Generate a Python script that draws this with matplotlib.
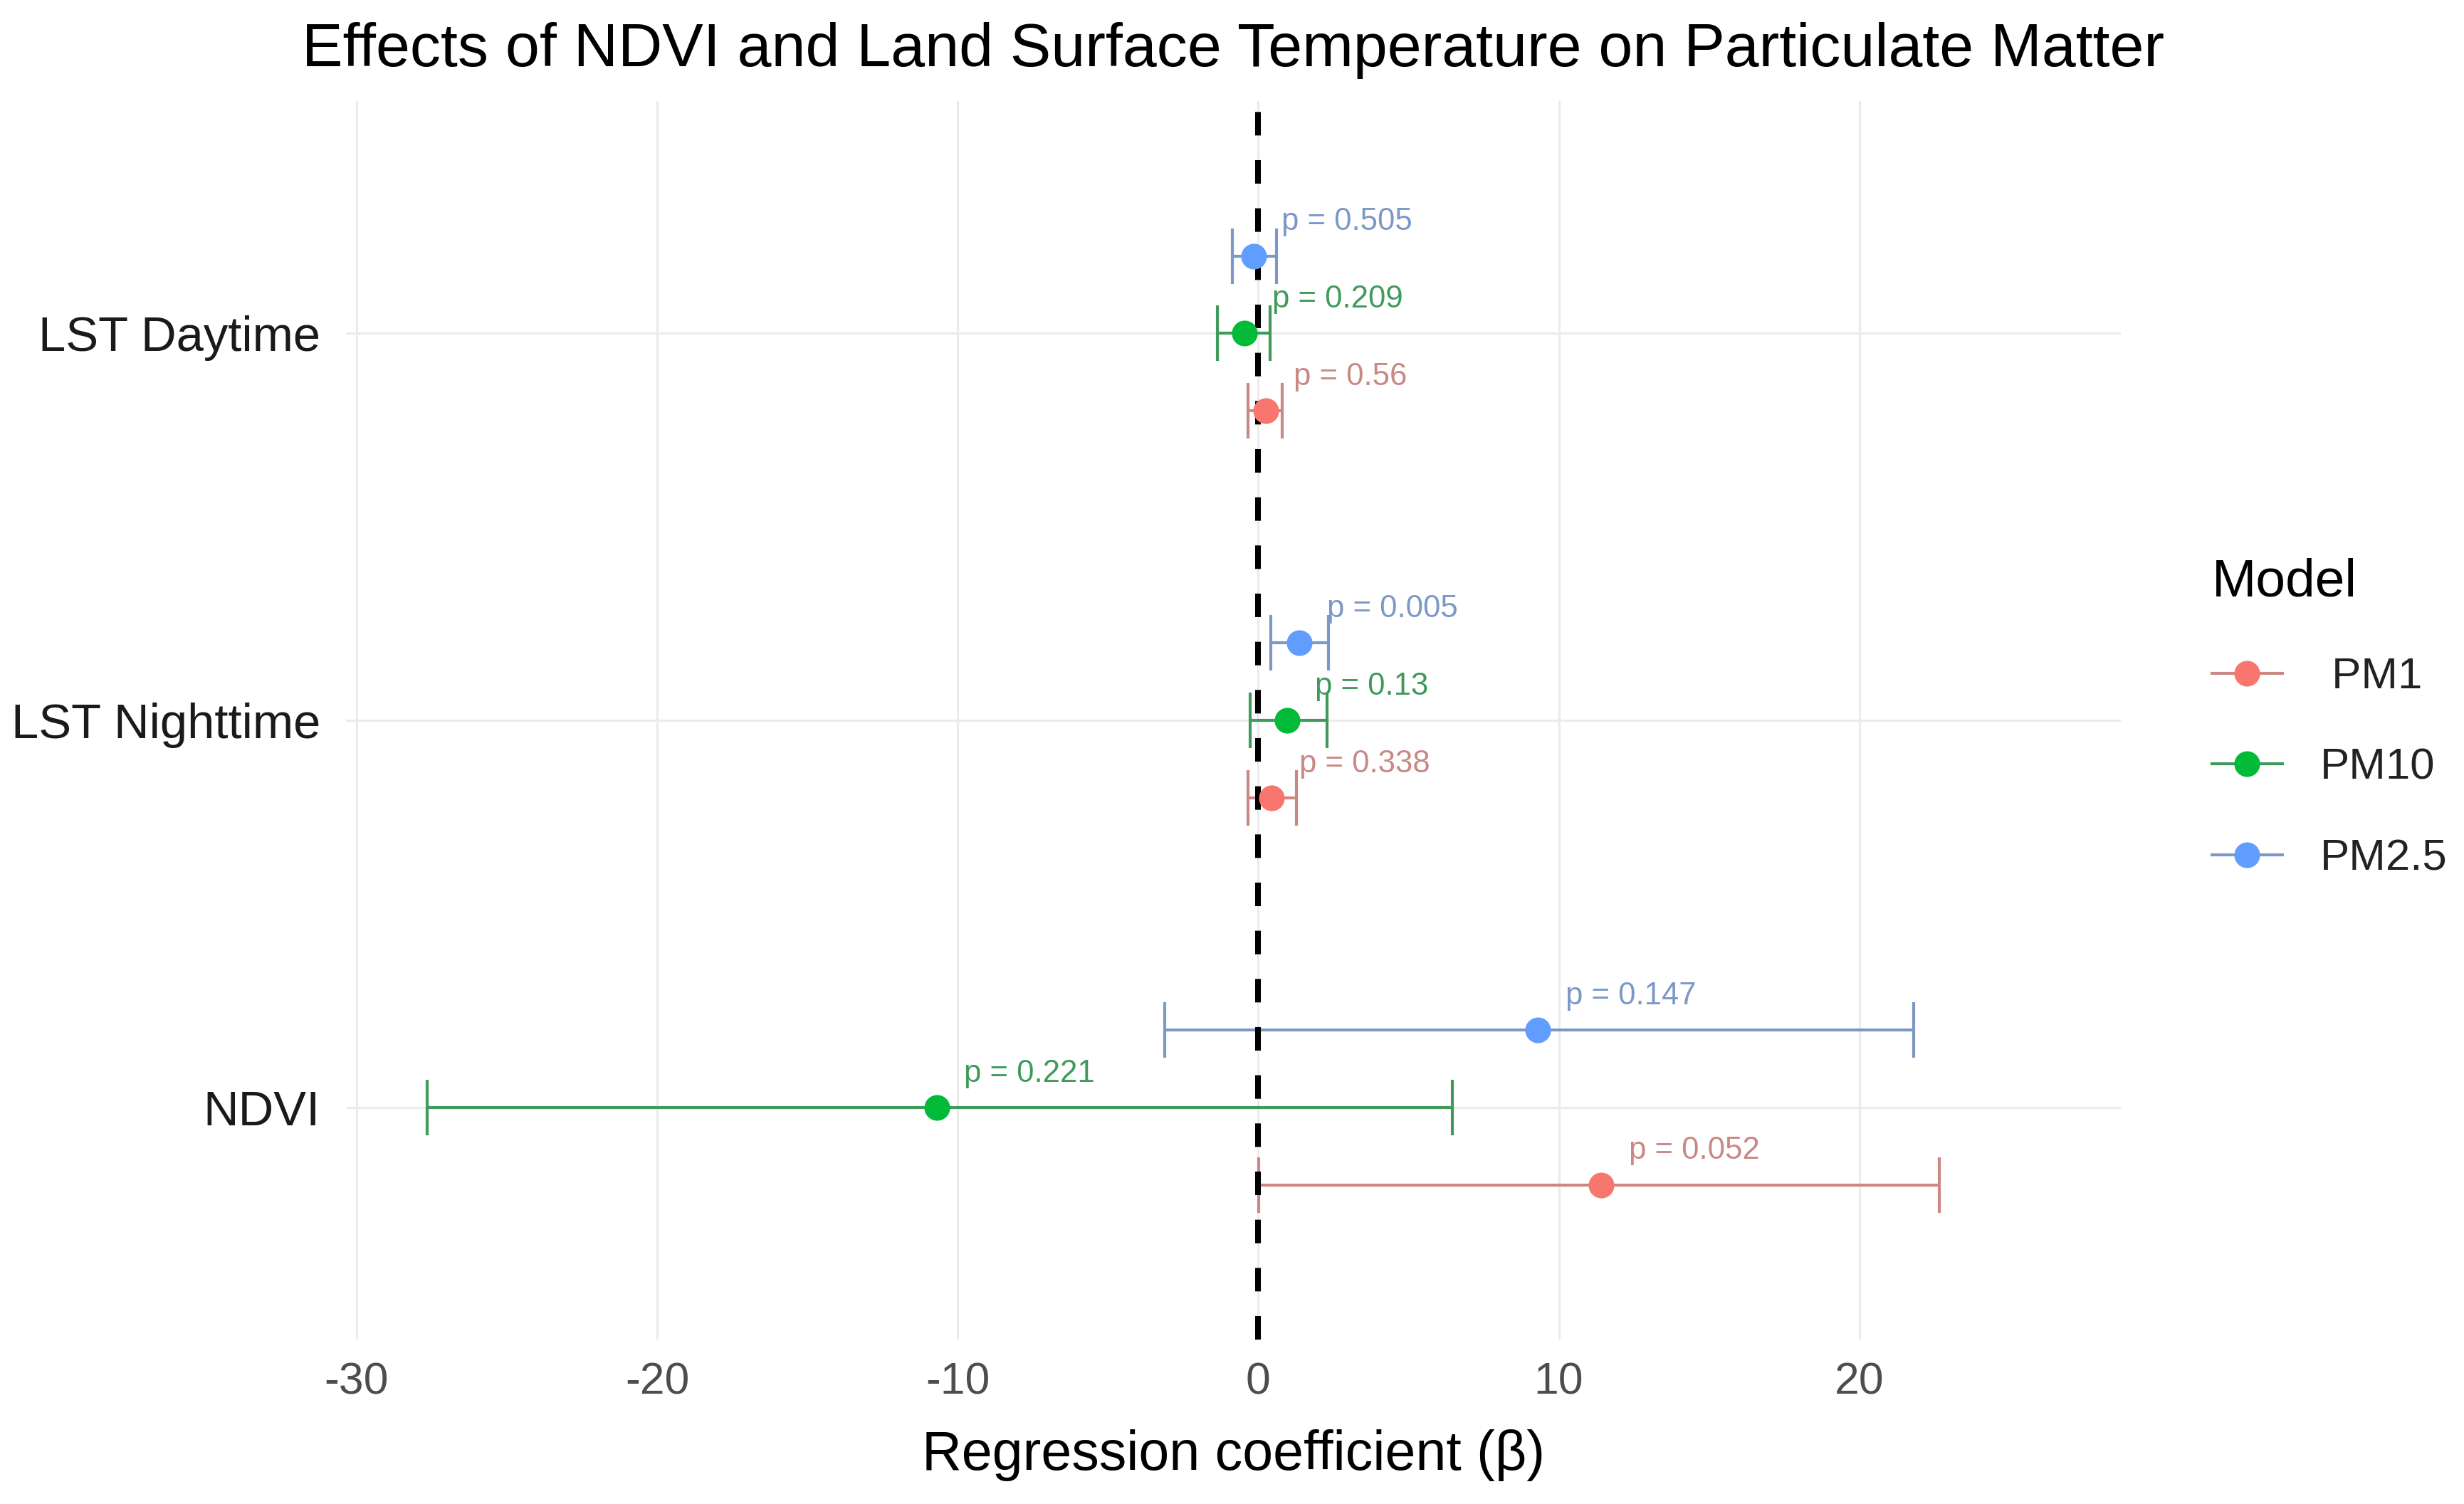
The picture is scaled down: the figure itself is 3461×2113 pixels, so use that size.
import matplotlib
matplotlib.use("Agg")
import matplotlib.pyplot as plt
from matplotlib.lines import Line2D
import numpy as np

# ---- data -------------------------------------------------------------
categories = ["NDVI", "LST Nighttime", "LST Daytime"]   # bottom -> top
models = ["PM1", "PM10", "PM2.5"]
legend_labels = [" PM1", "PM10", "PM2.5"]

est_pm1 = [11.4, 0.45, 0.26]
lo_pm1 = [0.02, -0.35, -0.35]
hi_pm1 = [22.67, 1.27, 0.80]
p_pm1 = ["0.052", "0.338", "0.56"]

est_pm10 = [-10.7, 0.97, -0.45]
lo_pm10 = [-27.66, -0.28, -1.35]
hi_pm10 = [6.45, 2.30, 0.40]
p_pm10 = ["0.221", "0.13", "0.209"]

est_pm25 = [9.3, 1.37, -0.14]
lo_pm25 = [-3.1, 0.43, -0.85]
hi_pm25 = [21.8, 2.33, 0.60]
p_pm25 = ["0.147", "0.005", "0.505"]

x_ticks = [-30, -20, -10, 0, 10, 20]

title = "Effects of NDVI and Land Surface Temperature on Particulate Matter"
x_label = "Regression coefficient (\u03b2)"
legend_title = "Model"

# ---- styling ----------------------------------------------------------
plt.rcParams["font.family"] = ["Liberation Sans", "DejaVu Sans"]

point_colors = ["#F8766D", "#00BA38", "#619CFF"]
line_colors = ["#C98883", "#3F9A5C", "#7C98C6"]
dodge = [-0.2, 0.0, 0.2]

W, H = 3462, 2113
fig = plt.figure(figsize=(W / 100, H / 100), dpi=100)
ax_left, ax_right, ax_top, ax_bottom = 486, 2979, 142, 1882
ax = fig.add_axes([ax_left / W, 1 - ax_bottom / H,
                   (ax_right - ax_left) / W, (ax_bottom - ax_top) / H])

series = [
    (est_pm1, lo_pm1, hi_pm1, p_pm1),
    (est_pm10, lo_pm10, hi_pm10, p_pm10),
    (est_pm25, lo_pm25, hi_pm25, p_pm25),
]

ypos = np.arange(len(categories))
handles = []
for i, (est, lo, hi, pv) in enumerate(series):
    est = np.asarray(est, float)
    lo = np.asarray(lo, float)
    hi = np.asarray(hi, float)
    y = ypos + dodge[i]
    ax.errorbar(est, y, xerr=[est - lo, hi - est], fmt="none",
                ecolor=line_colors[i], elinewidth=3.0, capsize=28,
                capthick=3.0, zorder=3)
    ax.plot(est, y, "o", ms=26, color=point_colors[i], mec="none", zorder=4)
    for xe, ye, p in zip(est, y, pv):
        ax.annotate(f"p = {p}", xy=(xe, ye), xytext=(28, 26),
                    textcoords="offset points", ha="left", va="baseline",
                    fontsize=31.5, color=line_colors[i], zorder=5)
    handles.append(Line2D([], [], color=line_colors[i], lw=3.0, marker="o",
                          ms=26, markerfacecolor=point_colors[i],
                          markeredgecolor="none"))

ax.axvline(0, color="black", lw=5.8, linestyle=(0, (4.1, 4.3)), zorder=3.5)

ax.set_xlim(-30.35, 28.7)
ax.set_ylim(-0.6, len(categories) - 0.4)
ax.set_xticks(x_ticks)
ax.set_xticklabels([str(t) for t in x_ticks])
ax.set_yticks(ypos)
ax.set_yticklabels(categories)

ax.grid(True, color="#EBEBEB", lw=2.2)
ax.set_axisbelow(True)
for s in ax.spines.values():
    s.set_visible(False)
ax.tick_params(axis="both", length=0)
ax.tick_params(axis="x", labelsize=45, labelcolor="#4D4D4D", pad=22)
ax.tick_params(axis="y", labelsize=49.5, labelcolor="#1A1A1A", pad=26)

ax.set_xlabel(x_label, fontsize=55.5, color="black")
ax.xaxis.set_label_coords(0.5, -(2065 - ax_bottom) / (ax_bottom - ax_top))
ax.xaxis.label.set_va("baseline")

ax.set_title(title, fontsize=62, color="black",
             y=1 + (ax_top - 93) / (ax_bottom - ax_top), pad=0)

leg = fig.legend(handles=handles, labels=legend_labels, title=legend_title,
                 loc="upper left", bbox_to_anchor=(3107 / W, 1 - 784 / H),
                 frameon=False, fontsize=44.5, title_fontsize=54,
                 handlelength=1.6, handletextpad=0.85, labelspacing=1.14,
                 borderpad=0, borderaxespad=0, alignment="left")
for t in leg.get_texts():
    t.set_color("#222222")

fig.savefig("out.png", dpi=100, facecolor="white")
